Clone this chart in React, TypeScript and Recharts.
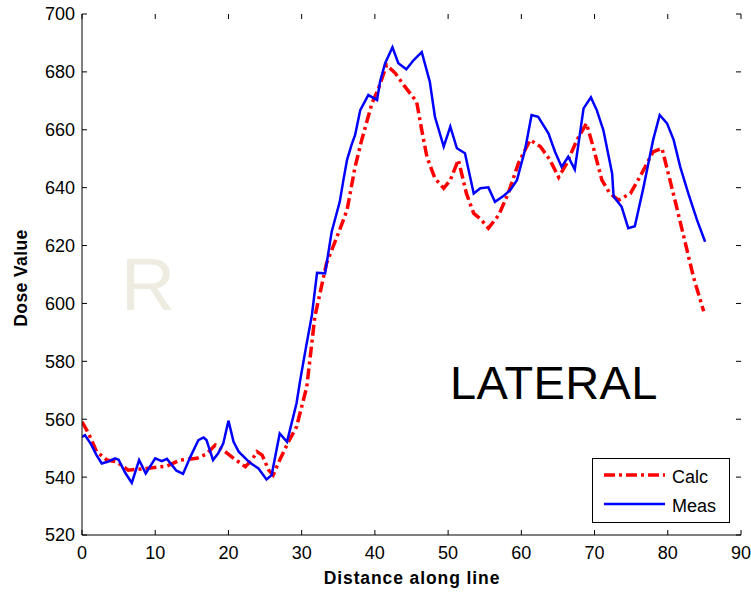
import { LineChart, Line, XAxis, YAxis } from 'recharts';

const measX = [0, 0.4, 1.2, 2.0, 2.7, 3.5, 4.5, 5.0, 5.9, 6.8, 7.8, 8.7, 10.0, 10.9, 11.6, 12.9, 13.8, 14.8, 15.9, 16.6, 17.0, 17.9, 18.6, 19.3, 20.0, 20.7, 21.4, 22.9, 24.1, 25.2, 25.9, 27.0, 28.0, 29.3, 29.8, 30.6, 31.4, 32.1, 33.2, 34.1, 35.2, 35.7, 36.2, 36.8, 37.3, 38.0, 39.1, 40.3, 40.7, 41.4, 42.4, 43.2, 44.3, 45.3, 46.4, 47.5, 48.2, 49.4, 50.3, 51.2, 52.3, 53.5, 54.4, 55.5, 56.4, 57.5, 58.5, 59.4, 60.5, 61.4, 62.3, 63.7, 64.6, 65.5, 66.4, 67.3, 68.5, 69.5, 70.3, 71.2, 72.4, 72.6, 73.7, 74.6, 75.5, 76.7, 78.0, 78.9, 79.9, 80.8, 81.7, 82.8, 84.0, 85.1];
const measY = [553.9, 554.5, 551.5, 547.5, 544.7, 545.3, 546.5, 546, 541.5, 538, 545.9, 541.3, 546.5, 545.5, 546.3, 542.2, 541.1, 547, 552.8, 553.7, 552.8, 545.9, 548.2, 551.7, 559.5, 552.2, 548.8, 545, 543, 539.2, 540.7, 555.1, 552.2, 565.5, 573.5, 585, 596, 610.6, 610.4, 624.8, 635.1, 642.6, 649.6, 654.7, 658.2, 666.8, 672, 670.3, 676.6, 683, 688.5, 683, 680.9, 684.1, 686.8, 676.6, 664.5, 654.2, 661.1, 653.6, 651.9, 638, 639.8, 640.1, 635.1, 637, 639.2, 642.6, 653, 665.1, 664.5, 658.8, 652.4, 647.2, 650.7, 646.3, 667.4, 671.2, 666.8, 659.9, 644.9, 636.9, 633.4, 626, 626.7, 640.3, 656.5, 665.1, 662.2, 656.5, 647.2, 638, 628.8, 621.3];

const calcX = [0, 0.9, 2.0, 3.4, 4.7, 6.3, 8.8, 11.6, 13.4, 15.7, 17.0, 18.2, 19.3, 20.7, 22.3, 23.2, 23.9, 24.6, 25.5, 26.1, 27.0, 28.2, 29.3, 30.7, 31.8, 33.4, 35.0, 36.2, 37.3, 38.2, 39.6, 40.5, 41.6, 42.8, 44.1, 45.7, 46.4, 47.1, 48.2, 49.4, 50.3, 51.4, 52.5, 53.5, 54.5, 55.5, 56.9, 58.2, 59.6, 61.2, 62.6, 63.9, 65.1, 66.2, 67.6, 68.9, 69.8, 71.0, 72.1, 73.3, 74.9, 76.2, 78.0, 79.2, 80.3, 81.2, 82.4, 83.5, 84.9];
const calcY = [559.1, 555.1, 548.8, 545.9, 545.3, 542.4, 543, 543.8, 545.9, 546.5, 548, 551.1, 549.3, 546.5, 543.6, 545.9, 548.8, 547.6, 542.4, 540.7, 545.9, 552.2, 557.4, 571.2, 595.4, 613.9, 624.2, 632.3, 647.2, 656.5, 669.1, 674.3, 682.4, 679.5, 674.9, 669.7, 659.9, 650.7, 643.2, 639.8, 642.6, 649.6, 638, 631.1, 629, 626, 630.5, 638, 648.4, 656.5, 654.2, 649.6, 643.6, 648.4, 656.5, 662.2, 654.2, 642.6, 638, 635.7, 638, 643.8, 652.4, 653.6, 642.6, 633.4, 620.8, 609.2, 597.3];

const xTicks = [0, 10, 20, 30, 40, 50, 60, 70, 80, 90];
const yTicks = [520, 540, 560, 580, 600, 620, 640, 660, 680, 700];

const measData = measX.map((x, i) => ({ x, y: measY[i] }));
const calcData = calcX.map((x, i) => ({ x, y: calcY[i] }));

const W = 751;
const H = 592;
const TOP = 14;
const BOTTOM = 535;
const LEFT = 82;
const RIGHT = 741;
const FONT = '"Liberation Sans", Arial, sans-serif';
const CALC_DASH = '11 4 3 4';

function XTick(props: any) {
  const { x, payload } = props;
  return (
    <g>
      <line x1={x} x2={x} y1={BOTTOM} y2={BOTTOM - 5} stroke="#000" />
      <line x1={x} x2={x} y1={TOP} y2={TOP + 5} stroke="#000" />
      <text x={x} y={BOTTOM + 24} textAnchor="middle" fontSize={18} fontFamily={FONT} fill="#000">
        {payload.value}
      </text>
    </g>
  );
}

function YTick(props: any) {
  const { y, payload } = props;
  return (
    <g>
      <line x1={LEFT} x2={LEFT + 5} y1={y} y2={y} stroke="#000" />
      <line x1={RIGHT} x2={RIGHT - 5} y1={y} y2={y} stroke="#000" />
      <text x={LEFT - 7} y={y} dy="0.36em" textAnchor="end" fontSize={18} fontFamily={FONT} fill="#000">
        {payload.value}
      </text>
    </g>
  );
}

export default function App() {
  return (
    <div style={{ position: 'absolute', left: 0, top: 0, width: W, height: H, background: '#fff' }}>
      <LineChart width={W} height={H} margin={{ top: TOP, right: W - RIGHT, bottom: 0, left: 0 }}>
        <XAxis
          dataKey="x"
          type="number"
          domain={[0, 90]}
          ticks={xTicks}
          interval={0}
          height={H - BOTTOM}
          tickLine={false}
          axisLine={{ stroke: '#000' }}
          tick={<XTick />}
          allowDataOverflow
        />
        <XAxis xAxisId="top" orientation="top" type="number" domain={[0, 90]} height={0} tick={false} tickLine={false} axisLine={{ stroke: '#000' }} />
        <YAxis
          type="number"
          domain={[520, 700]}
          ticks={yTicks}
          interval={0}
          width={LEFT}
          tickLine={false}
          axisLine={{ stroke: '#000' }}
          tick={<YTick />}
          allowDataOverflow
        />
        <YAxis yAxisId="right" orientation="right" type="number" domain={[520, 700]} width={0} tick={false} tickLine={false} axisLine={{ stroke: '#000' }} />
        <Line
          data={calcData}
          dataKey="y"
          name="Calc"
          type="linear"
          stroke="#ff0000"
          strokeWidth={3.5}
          strokeDasharray={CALC_DASH}
          dot={false}
          isAnimationActive={false}
        />
        <Line
          data={measData}
          dataKey="y"
          name="Meas"
          type="linear"
          stroke="#0000ff"
          strokeWidth={2.5}
          dot={false}
          isAnimationActive={false}
        />
      </LineChart>
      <svg width={W} height={H} style={{ position: 'absolute', left: 0, top: 0, pointerEvents: 'none' }}>
        <text x={-278} y={27} transform="rotate(-90)" textAnchor="middle" fontSize={17.5} fontWeight="bold" fontFamily={FONT} letterSpacing={0.4} fill="#000">
          Dose Value
        </text>
        <text x={412} y={584} textAnchor="middle" fontSize={17.5} fontWeight="bold" fontFamily={FONT} letterSpacing={0.9} fill="#000">
          Distance along line
        </text>
        <text x={121} y={310} fontSize={75} fontFamily={FONT} fill="#eeece0">
          R
        </text>
        <text x={450} y={399} fontSize={47} fontFamily={FONT} letterSpacing={0.3} fill="#000">
          LATERAL
        </text>
        <rect x={592.5} y={458.5} width={137} height={64} fill="#fff" stroke="#000" />
        <line x1={604} x2={665} y1={475} y2={475} stroke="#ff0000" strokeWidth={3.5} strokeDasharray={CALC_DASH} />
        <text x={672} y={483} fontSize={18} fontFamily={FONT} fill="#000">Calc</text>
        <line x1={604} x2={665} y1={504} y2={504} stroke="#0000ff" strokeWidth={2.5} />
        <text x={672} y={512} fontSize={18} fontFamily={FONT} fill="#000">Meas</text>
      </svg>
    </div>
  );
}
